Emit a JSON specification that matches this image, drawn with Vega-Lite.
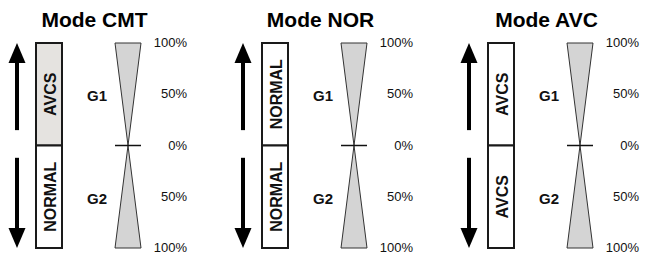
{
  "$schema": "https://vega.github.io/schema/vega-lite/v6.json",
  "padding": {"left": 0, "top": 10, "right": 0, "bottom": 0},
  "background": "white",
  "config": {"view": {"stroke": null}, "font": "Liberation Sans"},
  "data": {"values": [
    {"mode": "Mode CMT", "kind": "arrow", "dir": "up", "tail": 15, "neck": 84, "tip": 100},
    {"mode": "Mode CMT", "kind": "arrow", "dir": "down", "tail": -12, "neck": -84, "tip": -100},
    {"mode": "Mode CMT", "kind": "box", "group": "G1", "from": 0, "to": 100, "mid": 50, "text": "AVCS", "shaded": "yes"},
    {"mode": "Mode CMT", "kind": "box", "group": "G2", "from": -100, "to": 0, "mid": -50, "text": "NORMAL", "shaded": "no"},
    {"mode": "Mode CMT", "kind": "gain", "level": 50, "text": "G1"},
    {"mode": "Mode CMT", "kind": "gain", "level": -50, "text": "G2"},
    {"mode": "Mode CMT", "kind": "gauge", "group": "G1", "level": 100, "lo": -100, "hi": 100},
    {"mode": "Mode CMT", "kind": "gauge", "group": "G1", "level": 0, "lo": 0, "hi": 0},
    {"mode": "Mode CMT", "kind": "gauge", "group": "G2", "level": 0, "lo": 0, "hi": 0},
    {"mode": "Mode CMT", "kind": "gauge", "group": "G2", "level": -100, "lo": -100, "hi": 100},
    {"mode": "Mode CMT", "kind": "zero", "level": 0, "lo": -100, "hi": 100},
    {"mode": "Mode CMT", "kind": "tick", "level": 100, "text": "100%"},
    {"mode": "Mode CMT", "kind": "tick", "level": 50, "text": "50%"},
    {"mode": "Mode CMT", "kind": "tick", "level": 0, "text": "0%"},
    {"mode": "Mode CMT", "kind": "tick", "level": -50, "text": "50%"},
    {"mode": "Mode CMT", "kind": "tick", "level": -100, "text": "100%"},

    {"mode": "Mode NOR", "kind": "arrow", "dir": "up", "tail": 15, "neck": 84, "tip": 100},
    {"mode": "Mode NOR", "kind": "arrow", "dir": "down", "tail": -12, "neck": -84, "tip": -100},
    {"mode": "Mode NOR", "kind": "box", "group": "G1", "from": 0, "to": 100, "mid": 50, "text": "NORMAL", "shaded": "no"},
    {"mode": "Mode NOR", "kind": "box", "group": "G2", "from": -100, "to": 0, "mid": -50, "text": "NORMAL", "shaded": "no"},
    {"mode": "Mode NOR", "kind": "gain", "level": 50, "text": "G1"},
    {"mode": "Mode NOR", "kind": "gain", "level": -50, "text": "G2"},
    {"mode": "Mode NOR", "kind": "gauge", "group": "G1", "level": 100, "lo": -100, "hi": 100},
    {"mode": "Mode NOR", "kind": "gauge", "group": "G1", "level": 0, "lo": 0, "hi": 0},
    {"mode": "Mode NOR", "kind": "gauge", "group": "G2", "level": 0, "lo": 0, "hi": 0},
    {"mode": "Mode NOR", "kind": "gauge", "group": "G2", "level": -100, "lo": -100, "hi": 100},
    {"mode": "Mode NOR", "kind": "zero", "level": 0, "lo": -100, "hi": 100},
    {"mode": "Mode NOR", "kind": "tick", "level": 100, "text": "100%"},
    {"mode": "Mode NOR", "kind": "tick", "level": 50, "text": "50%"},
    {"mode": "Mode NOR", "kind": "tick", "level": 0, "text": "0%"},
    {"mode": "Mode NOR", "kind": "tick", "level": -50, "text": "50%"},
    {"mode": "Mode NOR", "kind": "tick", "level": -100, "text": "100%"},

    {"mode": "Mode AVC", "kind": "arrow", "dir": "up", "tail": 15, "neck": 84, "tip": 100},
    {"mode": "Mode AVC", "kind": "arrow", "dir": "down", "tail": -12, "neck": -84, "tip": -100},
    {"mode": "Mode AVC", "kind": "box", "group": "G1", "from": 0, "to": 100, "mid": 50, "text": "AVCS", "shaded": "no"},
    {"mode": "Mode AVC", "kind": "box", "group": "G2", "from": -100, "to": 0, "mid": -50, "text": "AVCS", "shaded": "no"},
    {"mode": "Mode AVC", "kind": "gain", "level": 50, "text": "G1"},
    {"mode": "Mode AVC", "kind": "gain", "level": -50, "text": "G2"},
    {"mode": "Mode AVC", "kind": "gauge", "group": "G1", "level": 100, "lo": -100, "hi": 100},
    {"mode": "Mode AVC", "kind": "gauge", "group": "G1", "level": 0, "lo": 0, "hi": 0},
    {"mode": "Mode AVC", "kind": "gauge", "group": "G2", "level": 0, "lo": 0, "hi": 0},
    {"mode": "Mode AVC", "kind": "gauge", "group": "G2", "level": -100, "lo": -100, "hi": 100},
    {"mode": "Mode AVC", "kind": "zero", "level": 0, "lo": -100, "hi": 100},
    {"mode": "Mode AVC", "kind": "tick", "level": 100, "text": "100%"},
    {"mode": "Mode AVC", "kind": "tick", "level": 50, "text": "50%"},
    {"mode": "Mode AVC", "kind": "tick", "level": 0, "text": "0%"},
    {"mode": "Mode AVC", "kind": "tick", "level": -50, "text": "50%"},
    {"mode": "Mode AVC", "kind": "tick", "level": -100, "text": "100%"}
  ]},
  "facet": {
    "column": {
      "field": "mode", "type": "nominal",
      "sort": ["Mode CMT", "Mode NOR", "Mode AVC"],
      "title": null,
      "header": {"labelFontSize": 21, "labelFontWeight": "bold", "labelFont": "Liberation Sans", "labelColor": "#000000", "labelPadding": 6}
    }
  },
  "spacing": 37,
  "spec": {
    "width": 189,
    "height": 205,
    "resolve": {"scale": {"x": "independent"}},
    "layer": [
      {
        "transform": [{"filter": "datum.kind === 'box'"}],
        "mark": {"type": "bar", "stroke": "#1a1a1a", "strokeWidth": 2},
        "encoding": {
          "x": {"field": "kind", "type": "nominal", "axis": null,
                "scale": {"type": "band", "domain": ["box"], "range": [36, 62], "paddingInner": 0, "paddingOuter": 0}},
          "y": {"field": "from", "type": "quantitative", "axis": null, "scale": {"domain": [-100, 100], "nice": false, "zero": false}},
          "y2": {"field": "to"},
          "fill": {"field": "shaded", "type": "nominal", "legend": null,
                   "scale": {"domain": ["yes", "no"], "range": ["#e5e3e0", "#ffffff"]}}
        }
      },
      {
        "transform": [{"filter": "datum.kind === 'box'"}],
        "mark": {"type": "text", "angle": 270, "fontSize": 16, "fontWeight": "bold", "align": "center", "baseline": "middle", "dy": 1.5, "color": "#111111"},
        "encoding": {
          "x": {"field": "kind", "type": "nominal", "axis": null,
                "scale": {"type": "point", "domain": ["box"], "range": [36, 62]}},
          "y": {"field": "mid", "type": "quantitative", "axis": null},
          "text": {"field": "text"}
        }
      },
      {
        "transform": [{"filter": "datum.kind === 'arrow'"}],
        "mark": {"type": "rule", "strokeWidth": 4, "color": "#000000"},
        "encoding": {
          "x": {"field": "kind", "type": "nominal", "axis": null,
                "scale": {"type": "point", "domain": ["arrow"], "range": [9, 25]}},
          "y": {"field": "tail", "type": "quantitative", "axis": null},
          "y2": {"field": "neck"}
        }
      },
      {
        "transform": [{"filter": "datum.kind === 'arrow'"}],
        "mark": {"type": "point", "filled": true, "size": 400, "opacity": 1, "color": "#000000", "strokeWidth": 0},
        "encoding": {
          "x": {"field": "kind", "type": "nominal", "axis": null,
                "scale": {"type": "point", "domain": ["arrow"], "range": [9, 25]}},
          "y": {"field": "tip", "type": "quantitative", "axis": null},
          "shape": {"field": "dir", "type": "nominal", "legend": null,
                    "scale": {"domain": ["up", "down"], "range": ["M0,0L0.85,2L-0.85,2Z", "M0,0L0.85,-2L-0.85,-2Z"]}}
        }
      },
      {
        "transform": [{"filter": "datum.kind === 'gain'"}],
        "mark": {"type": "text", "fontSize": 15, "fontWeight": "bold", "align": "center", "baseline": "middle", "dy": 2, "color": "#111111"},
        "encoding": {
          "x": {"field": "kind", "type": "nominal", "axis": null,
                "scale": {"type": "point", "domain": ["gain"], "range": [87, 107]}},
          "y": {"field": "level", "type": "quantitative", "axis": null},
          "text": {"field": "text"}
        }
      },
      {
        "transform": [{"filter": "datum.kind === 'tick'"}],
        "mark": {"type": "text", "fontSize": 13, "align": "right", "baseline": "middle", "color": "#111111"},
        "encoding": {
          "x": {"field": "kind", "type": "nominal", "axis": null,
                "scale": {"type": "point", "domain": ["tick"], "range": [187, 187]}},
          "y": {"field": "level", "type": "quantitative", "axis": null},
          "text": {"field": "text"}
        }
      },
      {
        "transform": [{"filter": "datum.kind === 'gauge'"}],
        "mark": {"type": "area", "orient": "horizontal", "fill": "#d4d4d4", "stroke": "#333333", "strokeWidth": 1, "opacity": 1},
        "encoding": {
          "x": {"field": "lo", "type": "quantitative", "axis": null,
                "scale": {"domain": [-100, 100], "range": [115, 141], "nice": false, "zero": false}},
          "x2": {"field": "hi"},
          "y": {"field": "level", "type": "quantitative", "axis": null},
          "detail": {"field": "group", "type": "nominal"}
        }
      },
      {
        "transform": [{"filter": "datum.kind === 'zero'"}],
        "mark": {"type": "rule", "strokeWidth": 1.5, "color": "#111111"},
        "encoding": {
          "x": {"field": "lo", "type": "quantitative", "axis": null,
                "scale": {"domain": [-100, 100], "range": [115, 141], "nice": false, "zero": false}},
          "x2": {"field": "hi"},
          "y": {"field": "level", "type": "quantitative", "axis": null}
        }
      }
    ]
  }
}
